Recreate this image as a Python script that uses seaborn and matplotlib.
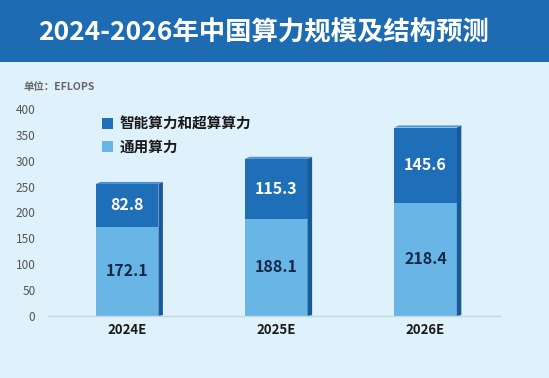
import numpy as np
import pandas as pd
import matplotlib
matplotlib.use("Agg")
import matplotlib.pyplot as plt
from matplotlib.patches import Rectangle, Polygon
import seaborn as sns

anos = ["2024E", "2025E", "2026E"]
geral = [172.1, 188.1, 218.4]
inteligente = [82.8, 115.3, 145.6]
ticks_y = [0, 50, 100, 150, 200, 250, 300, 350, 400]

cor_fundo = "#dff1fa"
cor_escura = "#1f6fb8"
cor_clara = "#69b5e5"
cor_banner = "#1d6bb2"

sns.set_theme(style="white")
plt.rcParams["font.family"] = ["Noto Sans CJK SC", "DejaVu Sans"]

df = pd.DataFrame({"ano": anos, "geral": geral, "inteligente": inteligente})
df["total"] = df["geral"] + df["inteligente"]

fig = plt.figure(figsize=(5.49, 3.78), dpi=100, facecolor=cor_fundo)
ax = fig.add_axes([0.0874, 0.164, 0.8236, 0.548])
ax.set_facecolor(cor_fundo)

sns.barplot(data=df, x="ano", y="total", color=cor_escura, width=0.42,
            saturation=1, ax=ax, label="智能算力和超算算力", linewidth=0, edgecolor="none")
sns.barplot(data=df, x="ano", y="geral", color=cor_clara, width=0.42,
            saturation=1, ax=ax, label="通用算力", linewidth=0, edgecolor="none")

# efeito 3d: face lateral e topo
dx, dy = 0.03, 4
for p in list(ax.patches[:len(anos)]):
    x0, w, h = p.get_x(), p.get_width(), p.get_height()
    lado = Polygon([(x0 + w, 0), (x0 + w + dx, dy * 0.4), (x0 + w + dx, h + dy), (x0 + w, h)],
                   closed=True, facecolor="#1a5a98", edgecolor="none", zorder=1)
    topo = Polygon([(x0, h), (x0 + dx, h + dy), (x0 + w + dx, h + dy), (x0 + w, h)],
                   closed=True, facecolor="#4d92d2", edgecolor="none", zorder=1)
    ax.add_patch(lado)
    ax.add_patch(topo)

for i in range(len(anos)):
    ax.text(i, geral[i] / 2, f"{geral[i]:.1f}", ha="center", va="center",
            fontsize=11.5, fontweight="bold", color="#16294a")
    ax.text(i, geral[i] + inteligente[i] / 2, f"{inteligente[i]:.1f}", ha="center",
            va="center", fontsize=11.5, fontweight="bold", color="white")

ax.set_xlim(-0.53, 2.5)
ax.set_ylim(0, 400)
ax.set_yticks(ticks_y)
ax.tick_params(axis="y", labelsize=8.5, colors="#555555", length=0, pad=9)
ax.tick_params(axis="x", labelsize=9.5, length=0, pad=5)
for t in ax.get_xticklabels():
    t.set_fontweight("bold")
    t.set_color("#1a1a1a")
ax.set_xlabel("")
ax.set_ylabel("")
for s in ["top", "right", "left"]:
    ax.spines[s].set_visible(False)
ax.spines["bottom"].set_color("#c8d8e2")
ax.spines["bottom"].set_linewidth(1)

leg = ax.legend(loc="upper left", bbox_to_anchor=(0.09, 1.03), frameon=False,
                handlelength=0.8, handleheight=0.8, handletextpad=0.4,
                labelspacing=0.45, prop={"size": 10.5, "weight": "bold"})
for t in leg.get_texts():
    t.set_color("#1a1a1a")

fig.patches.append(Rectangle((0, 0.836), 1, 0.164, transform=fig.transFigure,
                             facecolor=cor_banner, edgecolor="none", zorder=0))
fig.text(0.48, 0.912, "2024-2026年中国算力规模及结构预测", ha="center", va="center",
         fontsize=19, fontweight="bold", color="white")
fig.text(0.042, 0.77, "单位：EFLOPS", ha="left", va="center", fontsize=7.5,
         fontweight="bold", color="#666666")

fig.savefig("out.png", dpi=100, facecolor=cor_fundo)
